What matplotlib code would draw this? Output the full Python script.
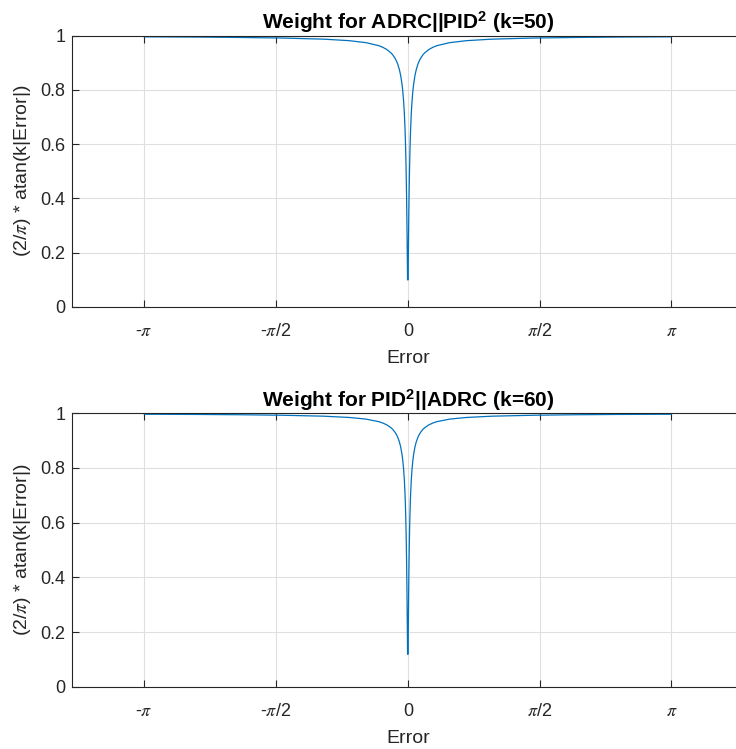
import numpy as np
import matplotlib
matplotlib.use("Agg")
import matplotlib.pyplot as plt

plt.rcParams['font.family'] = ['Liberation Sans', 'DejaVu Sans']
plt.rcParams['mathtext.fontset'] = 'stix'
plt.rcParams['mathtext.rm'] = 'Liberation Sans'
plt.rcParams['mathtext.bf'] = 'Liberation Sans:bold'
plt.rcParams['mathtext.it'] = 'Liberation Sans:italic'

# Error samples (x) and weight values
error = [-3.1416, -2.5, -2.0, -1.5, -1.0, -0.7, -0.5, -0.35, -0.3, -0.25,
         -0.2, -0.18, -0.15, -0.13, -0.12, -0.1, -0.085, -0.07, -0.06, -0.05,
         -0.042, -0.035, -0.03, -0.025, -0.02, -0.015, -0.011, -0.008, -0.005, -0.00314,
         0.00314, 0.005, 0.008, 0.011, 0.015, 0.02, 0.025, 0.03, 0.035, 0.042,
         0.05, 0.06, 0.07, 0.085, 0.1, 0.12, 0.13, 0.15, 0.18, 0.2,
         0.25, 0.3, 0.35, 0.5, 0.7, 1.0, 1.5, 2.0, 2.5, 3.1416]

weight_k50 = [0.996, 0.995, 0.9936, 0.9915, 0.9873, 0.9818, 0.9745, 0.9637, 0.9576, 0.949,
              0.9365, 0.9295, 0.9156, 0.9028, 0.8949, 0.8743, 0.8529, 0.8228, 0.7952, 0.7578,
              0.7171, 0.6695, 0.6257, 0.5705, 0.5, 0.4097, 0.3201, 0.2422, 0.156, 0.0991,
              0.0991, 0.156, 0.2422, 0.3201, 0.4097, 0.5, 0.5705, 0.6257, 0.6695, 0.7171,
              0.7578, 0.7952, 0.8228, 0.8529, 0.8743, 0.8949, 0.9028, 0.9156, 0.9295, 0.9365,
              0.949, 0.9576, 0.9637, 0.9745, 0.9818, 0.9873, 0.9915, 0.9936, 0.995, 0.996]

weight_k60 = [0.9966, 0.9958, 0.9947, 0.9929, 0.9894, 0.9848, 0.9788, 0.9697, 0.9647, 0.9576,
              0.9471, 0.9412, 0.9295, 0.9188, 0.9121, 0.8949, 0.8767, 0.8512, 0.8275, 0.7952,
              0.7593, 0.7171, 0.6772, 0.6257, 0.5577, 0.4665, 0.3713, 0.2849, 0.1856, 0.1186,
              0.1186, 0.1856, 0.2849, 0.3713, 0.4665, 0.5577, 0.6257, 0.6772, 0.7171, 0.7593,
              0.7952, 0.8275, 0.8512, 0.8767, 0.8949, 0.9121, 0.9188, 0.9295, 0.9412, 0.9471,
              0.9576, 0.9647, 0.9697, 0.9788, 0.9848, 0.9894, 0.9929, 0.9947, 0.9958, 0.9966]

titles = [r'Weight for ADRC||PID$\mathbf{^{2}}$ (k=50)',
          r'Weight for PID$\mathbf{^{2}}$||ADRC (k=60)']
xtick_vals = [-np.pi, -np.pi / 2, 0, np.pi / 2, np.pi]
xtick_labels = [r'-$\pi$', r'-$\pi$/2', '0', r'$\pi$/2', r'$\pi$']
ytick_vals = [0, 0.2, 0.4, 0.6, 0.8, 1]
ytick_labels = ['0', '0.2', '0.4', '0.6', '0.8', '1']

fig = plt.figure(figsize=(7.36, 7.49), dpi=100)
positions = [[0.0982, 0.5905, 0.9118, 0.3618],
             [0.0982, 0.0832, 0.9118, 0.3650]]
series = [weight_k50, weight_k60]
dark = '#262626'

for pos, w, t in zip(positions, series, titles):
    ax = fig.add_axes(pos)
    ax.plot(error, w, color='#0072BD', lw=0.9)
    ax.set_xlim(-4, 4)
    ax.set_ylim(0, 1)
    ax.set_xticks(xtick_vals)
    ax.set_xticklabels(xtick_labels)
    ax.set_yticks(ytick_vals)
    ax.set_yticklabels(ytick_labels)
    ax.grid(True, color='#dfdfdf', lw=0.8)
    ax.set_axisbelow(True)
    ax.tick_params(direction='in', length=5, width=0.8, colors=dark,
                   labelsize=13, top=True, right=True)
    ax.tick_params(axis='x', pad=12)
    ax.tick_params(axis='y', pad=5)
    for s in ax.spines.values():
        s.set_color(dark)
        s.set_linewidth(0.8)
    ax.set_xlabel('Error', fontsize=14, color=dark, labelpad=7)
    ax.set_ylabel(r'(2/$\pi$) * atan(k|Error|)', fontsize=14, color=dark, labelpad=5)
    ax.set_title(t, fontsize=15, fontweight='bold', color='black', pad=5,
                 math_fontfamily='custom')

fig.savefig('out.png', dpi=100)
